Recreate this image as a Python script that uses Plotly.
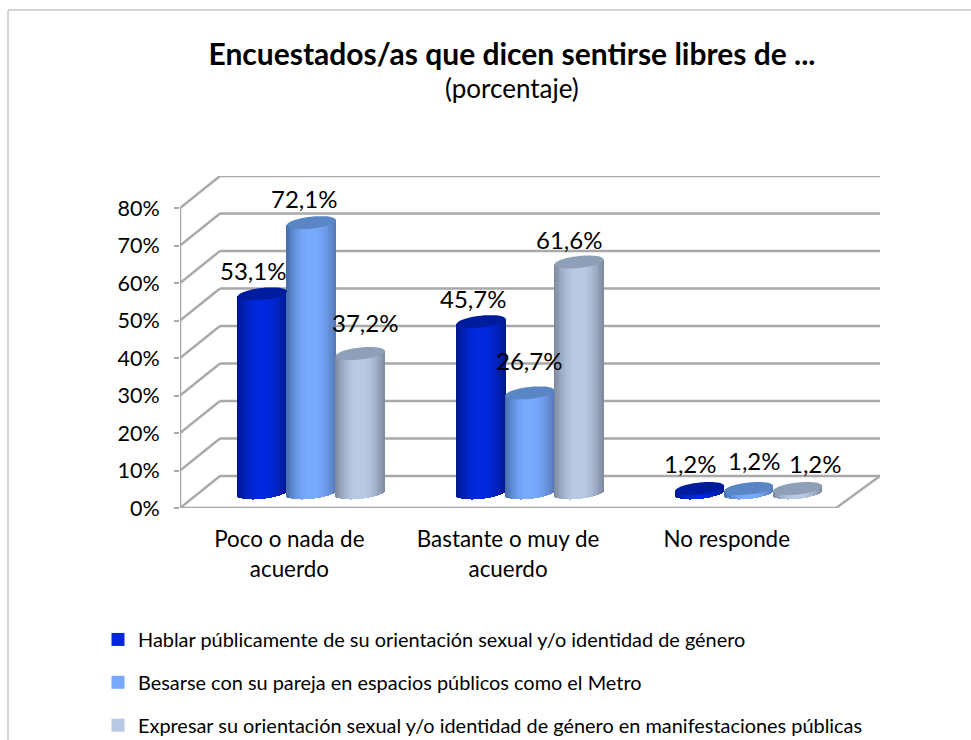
import math
import plotly.graph_objects as go

categories = ["Poco o nada de<br>acuerdo", "Bastante o muy de<br>acuerdo", "No responde"]
series_names = [
    "Hablar públicamente de su orientación sexual y/o identidad de género",
    "Besarse con su pareja en espacios públicos como el Metro",
    "Expresar su orientación sexual y/o identidad de género en manifestaciones públicas",
]
hablar = [53.1, 45.7, 1.2]
besarse = [72.1, 26.7, 1.2]
expresar = [37.2, 61.6, 1.2]
y_ticks = [0, 10, 20, 30, 40, 50, 60, 70, 80]
y_tick_text = ["0%", "10%", "20%", "30%", "40%", "50%", "60%", "70%", "80%"]

series_values = [hablar, besarse, expresar]

# style
W, H = 971, 740
FONT = "Lato"
PX_Y = 3.75            # px per percent
PX_X = 218.7           # px per category
X0_PX, X1_PX = 180, 880
Y0_PX, YT_PX = 508, 176
DEPTH_X, DEPTH_Y = 40 / PX_X, 32 / PX_Y
MID_X, MID_Y = 22 / PX_X, 15 / PX_Y
BAR_W = 49 / PX_X
A_PX, B_PX, TILT_PX = 24.5, 6.0, 2.5
N = 40
GRID = "#a9a9a9"
edge_l = [(0, 22, 135), (66, 104, 165), (120, 132, 152)]
center = [(0, 40, 222), (120, 170, 255), (186, 202, 229)]
edge_r = [(0, 24, 140), (84, 120, 180), (124, 136, 158)]
cap = ["#001c9e", "#5a86c6", "#8e9fb8"]
swatch = ["#0028d8", "#78a9ff", "#b9c9e4"]
label_dx = [[-9, -7, 5], [-8, -1, -10], [-9, 6, 18]]
label_dy = [[23, 24, 31], [23, 32, 23], [25, 28, 25]]

x_lo = -0.5
x_hi = x_lo + (X1_PX - X0_PX) / PX_X
y_hi = (Y0_PX - YT_PX) / PX_Y
n_cat = len(categories)


def mix(a, b, t):
    return tuple(round(a[i] + (b[i] - a[i]) * t) for i in range(3))


def shade(s, t):
    # t in [-1, 1]; cylinder-like falloff
    k = 1 - abs(t) ** 2.2
    return "rgb(%d,%d,%d)" % mix(edge_l[s] if t < 0 else edge_r[s], center[s], k)


fig = go.Figure()
shapes = []


def line(x0, y0, x1, y1, color=GRID, width=2.5):
    shapes.append(dict(type="line", xref="x", yref="y", x0=x0, y0=y0, x1=x1, y1=y1,
                       line=dict(color=color, width=width), layer="below"))


# walls and floor, all from the axis scale
for v in y_ticks:
    line(x_lo, v, x_lo + DEPTH_X, v + DEPTH_Y)
    line(x_lo + DEPTH_X, v + DEPTH_Y, x_hi, v + DEPTH_Y)
line(x_lo, 0, x_lo, y_ticks[-1])
x_front_end = x_lo + n_cat
line(x_lo, 0, x_front_end, 0)
line(x_front_end, 0, x_hi, DEPTH_Y)

# cylinders
for s, vals in enumerate(series_values):
    xs, ys, bases, cols = [], [], [], []
    for c, v in enumerate(vals):
        cx = c + MID_X + (s - 1) * BAR_W
        for k in range(N):
            t = -1 + (2 * k + 1) / N
            tilt = TILT_PX * t / PX_Y
            lower = B_PX * math.sqrt(1 - t * t) / PX_Y
            bottom = MID_Y + tilt - lower
            top = MID_Y + v + tilt
            xs.append(cx + t * BAR_W / 2)
            ys.append(top - bottom)
            bases.append(bottom)
            cols.append(shade(s, t))
    fig.add_trace(go.Bar(x=xs, y=ys, base=bases, width=BAR_W / N * 1.15,
                         marker=dict(color=cols, line=dict(width=0)),
                         showlegend=False, hoverinfo="skip", name=series_names[s]))

# caps
for c in range(n_cat):
    for s, vals in enumerate(series_values):
        cx = c + MID_X + (s - 1) * BAR_W
        cy = MID_Y + vals[c]
        pts = []
        for i in range(48):
            a = 2 * math.pi * i / 48
            px = (A_PX * math.cos(a)) / PX_X + cx
            py = cy + (TILT_PX * math.cos(a) + B_PX * math.sin(a)) / PX_Y
            pts.append(f"{px:.4f},{py:.4f}")
        shapes.append(dict(type="path", xref="x", yref="y", layer="above",
                           path="M" + " L".join(pts) + " Z",
                           fillcolor=cap[s], line=dict(width=0)))

# data labels
annotations = []
for c in range(n_cat):
    for s, vals in enumerate(series_values):
        annotations.append(dict(
            x=c + MID_X + (s - 1) * BAR_W, y=MID_Y + vals[c], xref="x", yref="y",
            text=f"{vals[c]:.1f}%".replace(".", ","), showarrow=False,
            xshift=label_dx[c][s], yshift=label_dy[c][s],
            font=dict(family=FONT, size=24, color="#000000")))

annotations.append(dict(
    x=512 / W, y=1 - 88 / H, xref="paper", yref="paper", xanchor="center", yanchor="middle",
    text="(porcentaje)", showarrow=False, font=dict(family=FONT, size=26, color="#000000")))

# legend entries
for s, name in enumerate(series_names):
    fig.add_trace(go.Scatter(x=[None], y=[None], mode="markers", name=name,
                             legendgroup=f"g{s}", hoverinfo="skip",
                             marker=dict(symbol="square", size=13, color=swatch[s])))

# page frame: top and left edges only
frame = "#c8c8c8"
for (a, b, c_, d) in [(8, 10, W, 10), (8, 10, 8, H)]:
    shapes.append(dict(type="line", xref="paper", yref="paper",
                       x0=a / W, x1=c_ / W, y0=1 - b / H, y1=1 - d / H,
                       line=dict(color=frame, width=1.5), layer="below"))

fig.update_layout(
    width=W, height=H, autosize=False,
    margin=dict(l=0, r=0, t=0, b=0, autoexpand=False),
    paper_bgcolor="white", plot_bgcolor="white",
    barmode="overlay", bargap=0,
    font=dict(family=FONT, color="#000000"),
    title=dict(
        text="<b>Encuestados/as que dicen sentirse libres de ...</b>",
        x=512 / W, xanchor="center", y=1 - 44 / H, yanchor="top",
        font=dict(family=FONT, size=30, color="#000000")),
    xaxis=dict(domain=[X0_PX / W, X1_PX / W], range=[x_lo, x_hi],
               tickmode="array", tickvals=list(range(n_cat)), ticktext=categories,
               showgrid=False, zeroline=False, showline=False, ticks="",
               ticklabelstandoff=16,
               tickfont=dict(family=FONT, size=22.4, color="#000000")),
    yaxis=dict(domain=[1 - Y0_PX / H, 1 - YT_PX / H], range=[0, y_hi],
               tickmode="array", tickvals=y_ticks, ticktext=y_tick_text,
               showgrid=False, zeroline=False, showline=False,
               ticks="outside", ticklen=5, tickwidth=2, tickcolor=GRID,
               ticklabelstandoff=10,
               tickfont=dict(family=FONT, size=21.5, color="#000000")),
    legend=dict(x=98 / W, xanchor="left", y=1 - 620 / H, yanchor="top",
                traceorder="grouped", tracegroupgap=14,
                bgcolor="rgba(0,0,0,0)", borderwidth=0,
                font=dict(family=FONT, size=19.9, color="#000000")),
    showlegend=True,
    shapes=shapes,
    annotations=annotations,
)

fig.write_html("out.html", post_script="document.body.style.margin='0';",
               config={"displayModeBar": False})
